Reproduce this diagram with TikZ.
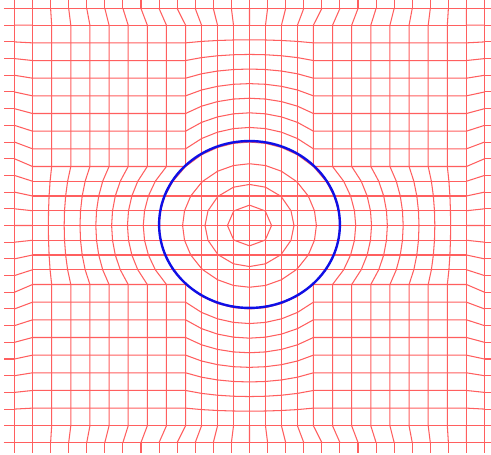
\documentclass[tikz,border=0pt]{standalone}
\definecolor{meshred}{RGB}{255,95,95}
\definecolor{circblue}{RGB}{15,15,230}
\begin{document}
\begin{tikzpicture}[x=18.08bp,y=16.69bp,
  declare function={
    armv(\tp,\c)=12+\tp*(sqrt(25-\c*\c)-12);
    Xi(\n)=(\n<=9) ? (-12+(\n-1)*1.0580583) : ((\n<=17) ? (-3.535534+(\n-9)*0.883883) : (3.535534+(\n-17)*1.0580583));
  },
  meshline/.style={draw=meshred,line width=1.05bp,line join=round},
  circ/.style={draw=circblue,line width=2.4pt}]
\fill[white] (-13.7998,-13.751) rectangle (13.3573,13.511);
\useasboundingbox (-13.7998,-13.751) rectangle (13.3573,13.511);
\def\cB{3.535534}
\def\dc{0.883883}
\def\da{8.464466}
% outer boundary lines, running on past the frame of the picture
\draw[meshline] (-13.6,13) -- (13.3573,13);
\draw[meshline] (-13.6,-13) -- (13.3573,-13);
\draw[meshline] (-13,13.511) -- (-13,-13.66);
\draw[meshline] (13,13.511) -- (13,-13.66);
% stubs of the mesh beyond the boundary
\foreach \ii in {1,...,25}{
  \draw[meshline] ({-13+\ii},13) -- ({-13+\ii},13.511);
  \draw[meshline] ({-13+\ii},-13) -- ({-13+\ii},-13.66);
  \draw[meshline] (-13,{-13+\ii}) -- (-13.6,{-13+\ii});
  \draw[meshline] (13,{-13+\ii}) -- (13.3573,{-13+\ii});
}
% transition band between boundary and frame
\foreach \ii in {1,...,25}{
  \draw[meshline] ({-13+\ii},13) -- ({Xi(\ii)},12);
  \draw[meshline] ({-13+\ii},-13) -- ({Xi(\ii)},-12);
  \draw[meshline] (-13,{-13+\ii}) -- (-12,{Xi(\ii)});
  \draw[meshline] (13,{-13+\ii}) -- (12,{Xi(\ii)});
}
% corner-block lines bending round the arms
\foreach \sg in {-1,1}{
  \foreach \ii in {0,...,8}{
    \pgfmathsetmacro{\tp}{\ii/8}
    \pgfmathsetmacro{\xx}{\sg*(12-\da*\tp)}
    \draw[meshline] (\xx,12) -- (\xx,\cB)
      foreach \kk in {7,6,...,1}{ -- ({\sg*armv(\tp,-\cB+\kk*\dc)},{-\cB+\kk*\dc}) }
      -- (\xx,-\cB) -- (\xx,-12);
    \draw[meshline] (12,\xx) -- (\cB,\xx)
      foreach \kk in {7,6,...,1}{ -- ({-\cB+\kk*\dc},{\sg*armv(\tp,-\cB+\kk*\dc)}) }
      -- (-\cB,\xx) -- (-12,\xx);
  }
}
% straight lines of the central cross
\foreach \kk in {1,...,7}{
  \draw[meshline] ({-\cB+\kk*\dc},12) -- ({-\cB+\kk*\dc},-12);
  \draw[meshline] (-12,{-\cB+\kk*\dc}) -- (12,{-\cB+\kk*\dc});
}
% rings inside the circle
\foreach \sx/\sy in {1/1,1/-1,-1/1,-1/-1}{
  \begin{scope}[xscale=\sx,yscale=\sy]
    \draw[meshline] (0,1.22) -- (0.8409,0.8839) -- (0.8839,0.8409) -- (1.22,0);
    \draw[meshline] (0,2.46) -- (0.8839,2.2957) -- (1.7107,1.7678) -- (1.7678,1.7107) -- (2.2957,0.8839) -- (2.46,0);
    \draw[meshline] (0,3.7) -- (0.8839,3.5929) -- (1.7678,3.2504) -- (2.5804,2.6517) -- (2.6517,2.5804) -- (3.2504,1.7678) -- (3.5929,0.8839) -- (3.7,0);
  \end{scope}
}
% the circle
\draw[circ] (0,0.06) ellipse [x radius=90.4bp, y radius=83.45bp];
\end{tikzpicture}
\end{document}
